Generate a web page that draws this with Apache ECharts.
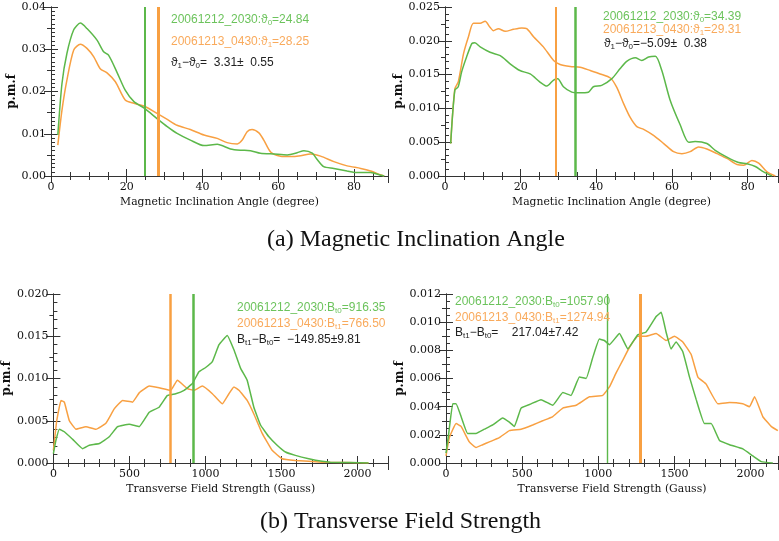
<!DOCTYPE html>
<html><head><meta charset="utf-8">
<script src="https://cdn.jsdelivr.net/npm/echarts@6/dist/echarts.min.js"></script>
<style>html,body{margin:0;padding:0;background:#fff}#c{width:779px;height:541px}</style>
</head><body><div id="c"></div>
<script>
// ---- Panel 1: Magnetic inclination angle, first pair ----
const p1GreenX = [1.8,2.9,4.2,6,7.75,9.5,12.2,13.9,15.2,17.4,19.6,21.9,24.7,28,30.7,33.3,36.8,40.4,43.9,47.4,50,52.7,55.3,58.9,62.4,65,66.8,69,70.3,72,74.7,78.2,80.9,84.4,87,88];
const p1GreenY = [0.0097,0.0219,0.029,0.0346,0.0362,0.0349,0.0321,0.0294,0.0286,0.0246,0.0203,0.0176,0.016,0.0136,0.0117,0.0101,0.0085,0.0072,0.0075,0.0064,0.0061,0.006,0.0054,0.0052,0.005,0.0055,0.006,0.0054,0.0039,0.0022,0.0018,0.0012,0.0008,0.0008,0.0002,0];
const p1OrangeX = [1.8,2.9,4.2,6,7.75,9.5,11.3,13,14.8,17,19.6,21.9,24.7,28,30.7,33.3,36.8,40.4,43.9,46.5,49.2,50.5,51.8,53.1,54.9,56.2,58,60.6,63.3,65.9,68.5,71.2,74.7,78.2,81.8,84.4,87,88];
const p1OrangeY = [0.0073,0.0156,0.0227,0.0298,0.0312,0.0302,0.0282,0.0254,0.0244,0.0223,0.018,0.0172,0.0165,0.0148,0.0134,0.012,0.011,0.0097,0.0089,0.0079,0.0076,0.0085,0.0105,0.011,0.0102,0.0085,0.0057,0.0047,0.0046,0.0048,0.0052,0.0047,0.0034,0.0024,0.0018,0.0012,0.0003,0];
// ---- Panel 2 ----
const p2GreenX = [1.5,2.6,3.5,4.4,5.7,7.1,7.9,9.3,11.9,14.6,17.2,19.8,22.5,25.1,26.9,28.7,29.8,31.3,33.5,35.3,37.9,39.2,41.4,44.1,46.3,48.1,50.3,52,53.8,55.6,57.3,59.5,62.2,64.4,66.1,69.2,71.4,74.5,77.6,79.8,82,84.2,86.4];
const p2GreenY = [0.0048,0.0127,0.0132,0.0154,0.0176,0.0196,0.0197,0.0191,0.0183,0.0178,0.0166,0.0156,0.0151,0.0139,0.0133,0.0142,0.0144,0.0132,0.0124,0.0123,0.0124,0.0132,0.0134,0.0144,0.0159,0.017,0.0175,0.0171,0.0176,0.0177,0.0156,0.0112,0.0075,0.005,0.0051,0.0048,0.0038,0.0028,0.002,0.0018,0.0014,0.0006,0];
const p2OrangeX = [1.5,2.6,3.5,4.9,6.2,7.5,9.3,10.6,11.9,12.8,14.1,15.9,18.1,20.3,21.6,23.4,26,28.7,30.4,33.1,35.7,38.4,41,43.7,45.4,47.2,48.9,50.7,52.5,55.1,57.8,60.4,62.6,64.8,67,69.2,71.9,74.5,77.2,78.9,81.1,82.9,85.1,87.3];
const p2OrangeY = [0.0048,0.0129,0.0139,0.0181,0.0206,0.0226,0.0226,0.0229,0.022,0.0215,0.0218,0.0214,0.0217,0.0219,0.0218,0.0206,0.0191,0.0171,0.0165,0.0162,0.0161,0.0156,0.0151,0.0145,0.0131,0.0107,0.0087,0.0073,0.0069,0.006,0.0048,0.0036,0.0033,0.0036,0.0043,0.004,0.0033,0.0026,0.0017,0.0016,0.0023,0.0019,0.0006,0];
// ---- Panel 3: Transverse field strength ----
const p3GreenX = [0,17,39,72,127,192,236,302,367,422,498,564,630,695,750,804,859,914,957,1001,1045,1089,1143,1187,1231,1274,1318,1362,1417,1471,1526,1591,1679,1766,1821,2072];
const p3GreenY = [0.0011,0.0027,0.004,0.0037,0.0028,0.0017,0.0021,0.0023,0.0031,0.0043,0.0046,0.0043,0.006,0.0066,0.008,0.0082,0.0086,0.0094,0.0108,0.0113,0.012,0.014,0.0151,0.0134,0.0112,0.0098,0.0066,0.0045,0.0031,0.0021,0.0013,0.0009,0.0005,0.0002,0.0001,0];
const p3OrangeX = [0,22,50,72,105,149,214,280,345,400,455,520,564,630,695,772,815,881,925,979,1045,1110,1154,1187,1220,1274,1318,1373,1438,1504,1591,1766,2072];
const p3OrangeY = [0.0015,0.005,0.0074,0.0072,0.005,0.004,0.0043,0.004,0.0047,0.0064,0.0074,0.0072,0.0083,0.0091,0.0089,0.0086,0.0098,0.0088,0.0086,0.0091,0.0082,0.007,0.0082,0.009,0.0086,0.0074,0.0058,0.0035,0.0015,0.0005,0.0003,0.0001,0];
// ---- Panel 4 ----
const p4GreenX = [0,18,44,66,99,142,197,252,307,372,416,449,493,558,624,701,767,821,876,920,964,1007,1040,1073,1139,1194,1259,1314,1380,1413,1445,1478,1511,1555,1599,1643,1697,1741,1796,1862,1949,2015,2070,2146];
const p4GreenY = [0.0007,0.0021,0.0042,0.0042,0.0033,0.0021,0.0021,0.0024,0.0027,0.0032,0.0029,0.0026,0.0039,0.0042,0.0045,0.0041,0.005,0.0048,0.0061,0.006,0.0075,0.0088,0.0087,0.0084,0.0092,0.0081,0.0091,0.0093,0.0104,0.0107,0.0093,0.0081,0.0086,0.0079,0.0061,0.0045,0.0028,0.0028,0.0016,0.0013,0.001,0.0005,0.0001,0];
const p4OrangeX = [0,22,66,99,153,197,241,285,350,416,493,569,635,701,767,854,942,1029,1073,1117,1161,1204,1259,1314,1380,1445,1500,1555,1610,1654,1708,1785,1862,1949,1993,2026,2080,2135,2179];
const p4OrangeY = [0.0005,0.0018,0.0028,0.0026,0.0015,0.0011,0.0013,0.0015,0.0018,0.0023,0.0024,0.0027,0.003,0.0033,0.0039,0.0041,0.0047,0.0048,0.0054,0.0064,0.0073,0.0082,0.009,0.009,0.0092,0.0087,0.009,0.0086,0.0077,0.0061,0.0056,0.0042,0.0043,0.0042,0.004,0.0047,0.0033,0.0026,0.0023];
// ---- Vertical mean markers ----
const meanGreen = [24.84, 34.39, 916.35, 1057.90];
const meanOrange = [28.25, 29.31, 766.50, 1274.94];
// ---- Axis tick settings ----
const xMax = [89, 88, 2200, 2180];
const xInterval = [20, 20, 500, 500];
const yMax = [0.04, 0.025, 0.020, 0.012];
const yInterval = [0.01, 0.005, 0.005, 0.002];
const yDecimals = [2, 3, 3, 3];
const xTitles = ['Magnetic Inclination Angle (degree)','Magnetic Inclination Angle (degree)','Transverse Field Strength (Gauss)','Transverse Field Strength (Gauss)'];

const GREEN = '#5cb84a', ORANGE = '#f8a042';
const GREEN_T = '#6cc35c', ORANGE_T = '#f9aa5c';
const SERIF = 'DejaVu Serif', SANS = 'Liberation Sans';

const grids = [
  {left:51, top:7, width:337, height:169},
  {left:445, top:7, width:333, height:169},
  {left:51, top:294, width:337, height:169},
  {left:446, top:294, width:332, height:169}
];
const yNameGap = [33, 37, 31, 36];
const xMinor = [4, 4, 5, 5];
const yMinor = [10, 5, 5, 4];
const gWidthGreen = [2, 2.5, 2.5, 1.4];
const gWidthOrange = [3, 2, 2.5, 3];

const xAxes = [], yAxes = [], series = [];
const axisLine = {show:true, lineStyle:{color:'#333', width:1}};
const tick = {show:true, inside:true, length:7, lineStyle:{color:'#333'}};
grids.forEach((g, i) => {
  const common = {type:'value', gridIndex:i, min:0};
  xAxes.push(Object.assign({}, common, {
    max:xMax[i], interval:xInterval[i], position:'bottom',
    axisLine, splitLine:{show:false}, axisTick:tick,
    minorTick:{show:true, splitNumber:xMinor[i], length:4, lineStyle:{color:'#333'}},
    axisLabel:{show:true, margin:6, color:'#111', fontFamily:SERIF, fontSize:11,
      formatter: v => (Math.abs(v % xInterval[i]) < 1e-9 ? String(v) : ''), showMaxLabel:false},
    name:xTitles[i], nameLocation:'middle', nameGap:21,
    nameTextStyle:{fontFamily:SERIF, fontSize:10.8, color:'#111'}
  }));
  xAxes.push(Object.assign({}, common, {
    max:xMax[i], interval:xInterval[i], position:'top',
    axisLine, splitLine:{show:false}, axisTick:tick,
    minorTick:{show:true, splitNumber:xMinor[i], length:4, lineStyle:{color:'#333'}},
    axisLabel:{show:false}
  }));
  yAxes.push(Object.assign({}, common, {
    max:yMax[i], interval:yInterval[i], position:'left',
    axisLine, splitLine:{show:false}, axisTick:tick,
    minorTick:{show:true, splitNumber:yMinor[i], length:4, lineStyle:{color:'#333'}},
    axisLabel:{show:true, margin:5, color:'#111', fontFamily:SERIF, fontSize:11,
      formatter: v => v.toFixed(yDecimals[i])},
    name:'p.m.f', nameLocation:'middle', nameGap:yNameGap[i],
    nameTextStyle:{fontFamily:SERIF, fontSize:12, fontWeight:'bold', color:'#111'}
  }));
  yAxes.push(Object.assign({}, common, {
    max:yMax[i], interval:yInterval[i], position:'right',
    axisLine, splitLine:{show:false}, axisTick:tick,
    minorTick:{show:true, splitNumber:2, length:4, lineStyle:{color:'#333'}},
    axisLabel:{show:false}
  }));
});

const data = [
  [p1GreenX,p1GreenY,p1OrangeX,p1OrangeY],
  [p2GreenX,p2GreenY,p2OrangeX,p2OrangeY],
  [p3GreenX,p3GreenY,p3OrangeX,p3OrangeY],
  [p4GreenX,p4GreenY,p4OrangeX,p4OrangeY]
];
const zip = (xs, ys) => xs.map((x, k) => [x, ys[k]]);
data.forEach((d, i) => {
  const sm = i < 2 ? 0.25 : 0.1;
  series.push({type:'line', xAxisIndex:2*i, yAxisIndex:2*i, data:zip(d[2], d[3]),
    showSymbol:false, smooth:sm, lineStyle:{color:ORANGE, width:1.5}, z:2,
    markLine:{silent:true, symbol:['none','none'], label:{show:false},
      lineStyle:{color:ORANGE, width:gWidthOrange[i], type:'solid', opacity:1}, data:[{xAxis:meanOrange[i]}]}});
  series.push({type:'line', xAxisIndex:2*i, yAxisIndex:2*i, data:zip(d[0], d[1]),
    showSymbol:false, smooth:sm, lineStyle:{color:GREEN, width:1.5}, z:3,
    markLine:{silent:true, symbol:['none','none'], label:{show:false},
      lineStyle:{color:GREEN, width:gWidthGreen[i], type:'solid', opacity:1}, data:[{xAxis:meanGreen[i]}]}});
});

const rich = c => ({
  t:{color:c, fontFamily:SANS, fontSize:12, fontWeight:'normal', lineHeight:14},
  s:{color:c, fontFamily:SANS, fontSize:8, fontWeight:'normal', lineHeight:6, verticalAlign:'bottom'}
});
const ann = (left, top, text, c) => ({left, top, padding:0, text,
  textStyle:{rich:rich(c), fontSize:12, fontWeight:'normal', color:c}});
const titles = [
  ann(171, 13, '{t|20061212_2030:ϑ}{s|0}{t|=24.84}', GREEN_T),
  ann(171, 35, '{t|20061213_0430:ϑ}{s|1}{t|=28.25}', ORANGE_T),
  ann(171, 56, '{t|ϑ}{s|1}{t|−ϑ}{s|0}{t|=  3.31±  0.55}', '#222'),
  ann(603, 10, '{t|20061212_2030:ϑ}{s|0}{t|=34.39}', GREEN_T),
  ann(603, 23, '{t|20061213_0430:ϑ}{s|1}{t|=29.31}', ORANGE_T),
  ann(604, 37, '{t|ϑ}{s|1}{t|−ϑ}{s|0}{t|=−5.09±  0.38}', '#222'),
  ann(237, 301, '{t|20061212_2030:B}{s|t0}{t|=916.35}', GREEN_T),
  ann(237, 317, '{t|20061213_0430:B}{s|t1}{t|=766.50}', ORANGE_T),
  ann(237, 333, '{t|B}{s|t1}{t|−B}{s|t0}{t|=  −149.85±9.81}', '#222'),
  ann(455, 295, '{t|20061212_2030:B}{s|t0}{t|=1057.90}', GREEN_T),
  ann(455, 311, '{t|20061213_0430:B}{s|t1}{t|=1274.94}', ORANGE_T),
  ann(455, 326, '{t|B}{s|t1}{t|−B}{s|t0}{t|=    217.04±7.42}', '#222'),
  {left:267, top:228, padding:0, text:'(a) Magnetic Inclination Angle',
    textStyle:{fontFamily:'Liberation Serif', fontSize:24, fontWeight:'normal', color:'#111'}},
  {left:260, top:510, padding:0, text:'(b) Transverse Field Strength',
    textStyle:{fontFamily:'Liberation Serif', fontSize:24, fontWeight:'normal', color:'#111'}}
];

const chart = echarts.init(document.getElementById('c'), null, {renderer:'canvas'});
chart.setOption({
  animation:false, backgroundColor:'#fff',
  title:titles, grid:grids, xAxis:xAxes, yAxis:yAxes, series
});
</script></body></html>
